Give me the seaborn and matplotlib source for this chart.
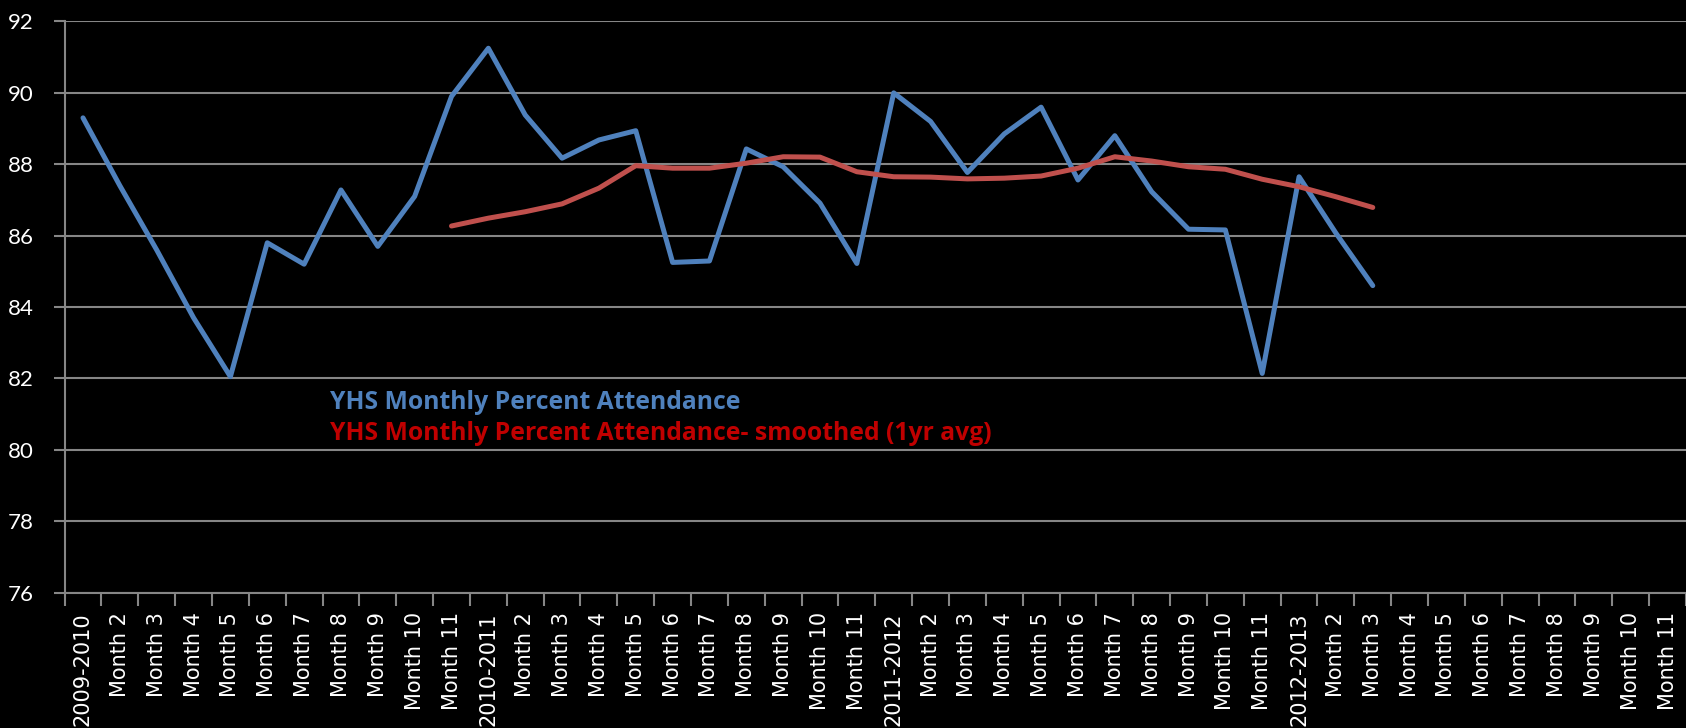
import numpy as np
import pandas as pd
import matplotlib.pyplot as plt
import seaborn as sns

# x categories: 4 school years x 11 months
seasons = ['2009-2010', '2010-2011', '2011-2012', '2012-2013']
months = ['Month %d' % m for m in range(2, 12)]
labels = []
for s in seasons:
    labels += [s] + months

attendance = [89.3, 87.4, 85.6, 83.7, 82.05, 85.8, 85.2, 87.28, 85.7, 87.1, 89.9,
              91.25, 89.38, 88.17, 88.68, 88.94, 85.25, 85.29, 88.43, 87.93, 86.91, 85.22,
              90.0, 89.2, 87.77, 88.85, 89.6, 87.56, 88.8, 87.23, 86.18, 86.16, 82.14,
              87.65, 86.07, 84.6]
smoothed_start = 10
smoothed = [86.27, 86.49, 86.67, 86.89, 87.33, 87.96, 87.89, 87.89, 88.03, 88.21, 88.2,
            87.79, 87.65, 87.64, 87.59, 87.61, 87.67, 87.89, 88.21, 88.09, 87.93, 87.86,
            87.58, 87.37, 87.09, 86.79]

name1 = 'YHS Monthly Percent Attendance'
name2 = 'YHS Monthly Percent Attendance- smoothed (1yr avg)'

df = pd.concat([
    pd.DataFrame({'idx': range(len(attendance)), 'pct': attendance, 'series': name1}),
    pd.DataFrame({'idx': range(smoothed_start, smoothed_start + len(smoothed)),
                  'pct': smoothed, 'series': name2}),
])

sns.set_style({'axes.facecolor': 'black', 'figure.facecolor': 'black',
               'axes.edgecolor': '#868686', 'grid.color': '#868686'})
plt.rcParams['font.family'] = ['Lato', 'DejaVu Sans']

fig = plt.figure(figsize=(16.86, 7.28), dpi=100)
ax = fig.add_axes([0.0383, 0.186, 0.9617, 0.7845])

sns.lineplot(data=df, x='idx', y='pct', hue='series', palette=['#4F81BD', '#C0504D'],
             linewidth=3.6, legend=False, ax=ax, solid_capstyle='round')

ax.set_xlim(-0.5, len(labels) - 0.5)
ax.set_ylim(76, 92)
ax.set_yticks(np.arange(76, 93, 2))
ax.yaxis.grid(True, color='#868686', linewidth=1.5)
ax.xaxis.grid(False)
ax.set_xlabel('')
ax.set_ylabel('')

for side in ['top', 'right']:
    ax.spines[side].set_visible(False)
for side in ['left', 'bottom']:
    ax.spines[side].set_color('#868686')
    ax.spines[side].set_linewidth(1.5)

ax.set_xticks(range(len(labels)))
ax.set_xticklabels(labels, rotation=90, color='white', fontsize=15)
for t in ax.get_xticklabels():
    t.set_fontfamily('DejaVu Sans')
ax.set_xticks(np.arange(-0.5, len(labels), 1), minor=True)
ax.tick_params(axis='x', which='major', length=0, pad=14)
ax.tick_params(axis='x', which='minor', length=9, width=1.5, color='#868686', bottom=True)
ax.tick_params(axis='y', length=8, width=1.5, color='#868686', labelcolor='white',
               labelsize=16, pad=14, left=True)

fig.text(330 / 1686, 1 - 409 / 728, name1, color='#4F81BD', fontsize=17.8,
         family='Open Sans', fontweight='bold', va='baseline')
fig.text(330 / 1686, 1 - 440 / 728, name2, color='#C00000', fontsize=17.8,
         family='Open Sans', fontweight='bold', va='baseline')

fig.savefig('out.png', dpi=100, facecolor='black')
